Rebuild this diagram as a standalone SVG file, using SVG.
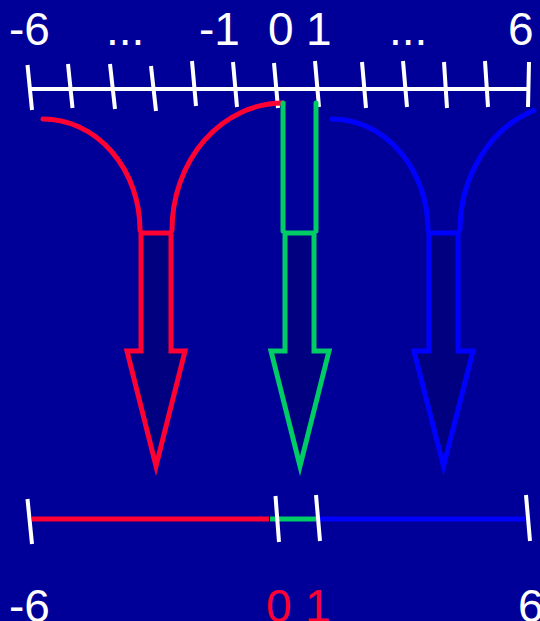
<svg xmlns="http://www.w3.org/2000/svg" width="540" height="621" viewBox="0 0 540 621">
<style>
.lbl{font-family:"Liberation Sans",Arial,sans-serif;font-size:46px;fill:#ffffff}
.red{fill:#ff0033}
.tick{stroke:#ffffff;stroke-width:4;fill:none}
.axis{stroke:#ffffff;stroke-width:4;fill:none}
.arrow{fill:#000080;stroke-width:5;stroke-linejoin:miter;stroke-miterlimit:10}
.curve{fill:none;stroke-width:5;stroke-linecap:round}
</style>
<rect width="540" height="621" fill="#000099"/>
<g id="top-axis">
<line class="axis" x1="31" y1="89" x2="529" y2="89"/>
<path class="tick" d="M27.5,65 L32,110 M68,64 L72.5,108 M110,64 L115,109 M151,66 L156,111 M192,61 L196,106 M233,62 L237,107 M274,63 L278,108 M315,61 L319,107 M362,62 L366,108 M403,61 L407,107 M444,62 L447,108 M485,61 L488,107 M529,62 L528,107"/>
<text class="lbl" x="9" y="45">-6</text>
<text class="lbl" x="106" y="45">...</text>
<text class="lbl" x="199" y="45">-1</text>
<text class="lbl" x="268" y="45">0</text>
<text class="lbl" x="306" y="45">1</text>
<text class="lbl" x="389" y="45">...</text>
<text class="lbl" x="508" y="45">6</text>
</g>
<g id="connectors">
<path class="curve" stroke="#ff0033" d="M43,119 A97,111 0 0 1 140,230"/>
<path class="curve" stroke="#ff0033" d="M172,230 A111,127 0 0 1 283,103"/>
<path class="curve" stroke="#00cc66" stroke-linecap="butt" d="M283,103 L283,231 M316,103 L316,231"/>
<path class="curve" stroke="#0000ff" d="M332,119 A96,111 0 0 1 428,230"/>
<path class="curve" stroke="#0000ff" d="M460,230 A111,127 0 0 1 534,110.5"/>
</g>
<g id="arrow-red">
<polygon class="arrow" stroke="#ff0033" points="141,233 171,233 171,351 185,351 156,466 127,351 141,351"/>
</g>
<g id="arrow-green">
<polygon class="arrow" stroke="#00cc66" points="285,233 314,233 314,351 329,351 300,466 271,351 285,351"/>
</g>
<g id="arrow-blue">
<polygon class="arrow" stroke="#0000ff" points="429,233 458,233 458,351 473,351 443.5,466 414,351 429,351"/>
</g>
<g id="bottom-axis">
<line stroke="#ff0033" stroke-width="5" x1="32" y1="519" x2="269" y2="519"/>
<line stroke="#00cc66" stroke-width="5" x1="270" y1="519" x2="316" y2="519"/>
<line stroke="#0000ff" stroke-width="5" x1="317" y1="519" x2="525" y2="519"/>
<path class="tick" d="M27.5,499 L32,544 M275.5,496 L279,542 M316,495 L320,541 M526,495 L530,541"/>
<text class="lbl" x="9" y="622">-6</text>
<text class="lbl red" x="266" y="622">0</text>
<text class="lbl red" x="305" y="622">1</text>
<text class="lbl" x="518" y="622">6</text>
</g>
</svg>
